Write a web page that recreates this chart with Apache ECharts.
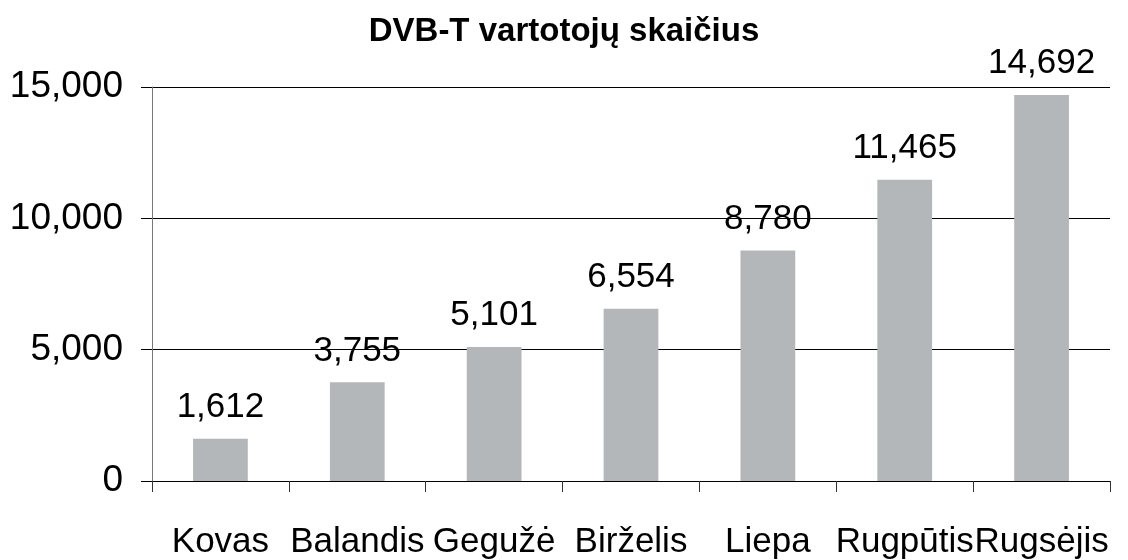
<!DOCTYPE html>
<html>
<head>
<meta charset="utf-8">
<script src="https://cdn.jsdelivr.net/npm/echarts@6/dist/echarts.min.js"></script>
<style>
    html, body { margin: 0; padding: 0; background: #fff; }
    #chart { width: 1128px; height: 560px; }
</style>
</head>
<body>
<div id="chart"></div>
<script>
    const months = ['Kovas', 'Balandis', 'Gegužė', 'Birželis', 'Liepa', 'Rugpūtis', 'Rugsėjis'];
    const users = [1612, 3755, 5101, 6554, 8780, 11465, 14692];
    const yTicks = [0, 5000, 10000, 15000];

    const font = '"Liberation Sans", Arial, sans-serif';
    const fmt = v => String(v).replace(/\B(?=(\d{3})+(?!\d))/g, ',');

    const chart = echarts.init(document.getElementById('chart'));
    chart.setOption({
        animation: false,
        title: {
            text: 'DVB-T vartotojų skaičius',
            left: 'center',
            top: 10,
            textStyle: {
                fontFamily: font,
                fontSize: 33,
                fontWeight: 'bold',
                color: '#000'
            }
        },
        grid: {
            left: 152,
            right: 18,
            top: 87,
            bottom: 72,
            containLabel: false
        },
        xAxis: {
            type: 'category',
            data: months,
            axisLine: {
                lineStyle: { color: '#000', width: 1 }
            },
            axisTick: {
                show: true,
                length: 11,
                alignWithLabel: false,
                lineStyle: { color: '#333' }
            },
            axisLabel: {
                margin: 44,
                fontFamily: font,
                fontSize: 35,
                color: '#000',
                interval: 0
            }
        },
        yAxis: {
            type: 'value',
            min: yTicks[0],
            max: yTicks[yTicks.length - 1],
            interval: 5000,
            axisLine: {
                show: true,
                lineStyle: { color: '#777', width: 1 }
            },
            axisTick: {
                show: true,
                length: 11,
                lineStyle: { color: '#000' }
            },
            splitLine: {
                show: true,
                lineStyle: { color: '#000', width: 1 }
            },
            axisLabel: {
                margin: 29,
                fontFamily: font,
                fontSize: 37,
                color: '#000',
                formatter: fmt
            }
        },
        series: [
            {
                type: 'bar',
                data: users,
                barWidth: '40%',
                itemStyle: { color: '#b4b7b9' },
                label: {
                    show: true,
                    position: 'top',
                    distance: 14,
                    fontFamily: font,
                    fontSize: 35,
                    color: '#000',
                    formatter: p => fmt(p.value)
                }
            }
        ]
    });
</script>
</body>
</html>
